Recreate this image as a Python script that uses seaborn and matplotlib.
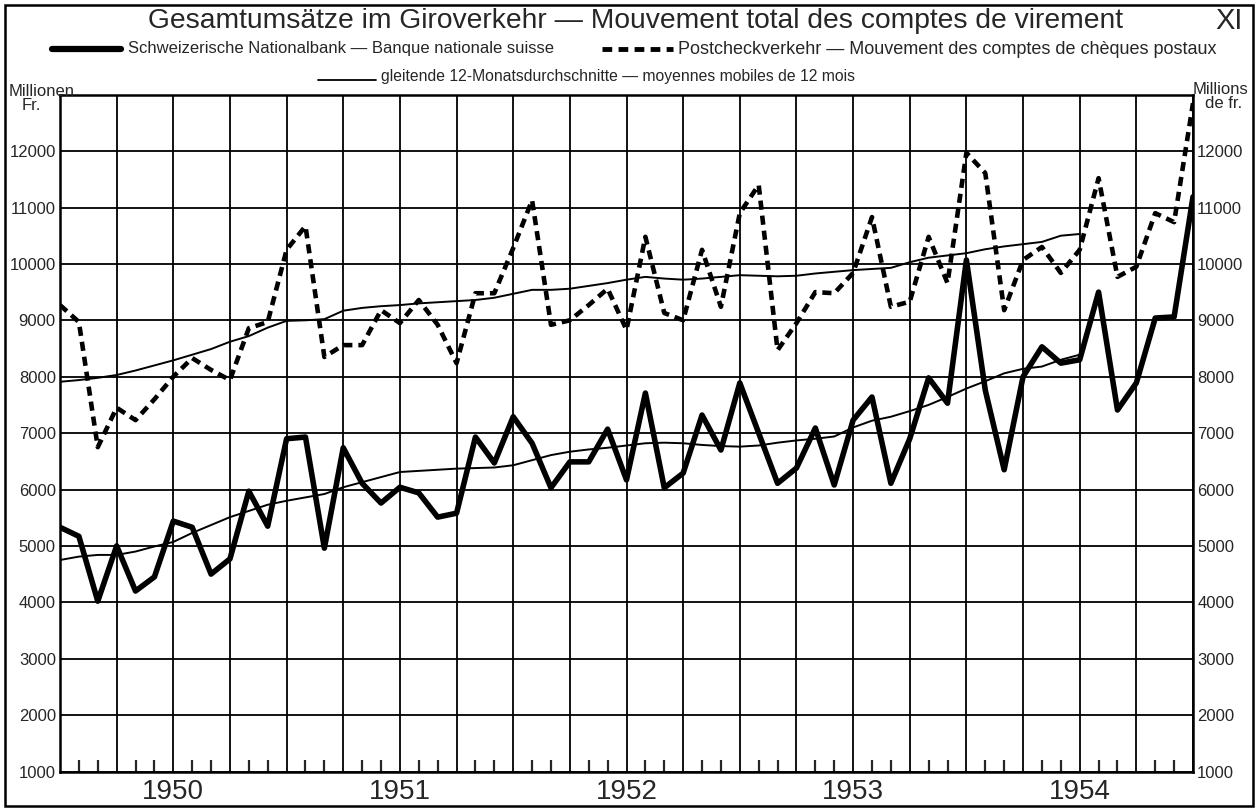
import numpy as np
import pandas as pd
import matplotlib
matplotlib.use('Agg')
import matplotlib.pyplot as plt
from matplotlib.lines import Line2D
from matplotlib.patches import Rectangle
import seaborn as sns

sns.set_style('white')
plt.rcParams['font.family'] = ['Liberation Sans', 'DejaVu Sans']

# monthly values, Mio. Fr. (index 0 = start of 1950, 60 = start of 1955)
nationalbank = [5330, 5170, 4020, 5000, 4200, 4450, 5440, 5330, 4500, 4770,
                5970, 5350, 6900, 6930, 4960, 6740, 6110, 5760, 6040, 5940,
                5510, 5580, 6930, 6470, 7290, 6820, 6030, 6490, 6490, 7070,
                6170, 7710, 6030, 6290, 7320, 6700, 7890, 7000, 6110, 6380,
                7090, 6080, 7230, 7640, 6110, 6900, 7980, 7530, 10070, 7760,
                6350, 8000, 8530, 8240, 8300, 9500, 7410, 7890, 9040, 9060,
                11190]
postcheck = [9270, 8970, 6750, 7450, 7230, 7600, 8000, 8330, 8120, 7940,
             8860, 8970, 10250, 10670, 8350, 8560, 8560, 9180, 8950, 9360,
             8920, 8240, 9480, 9480, 10280, 11130, 8920, 9000, 9270, 9560,
             8830, 10480, 9130, 9000, 10250, 9240, 10900, 11400, 8470, 8950,
             9500, 9480, 9840, 10830, 9240, 9330, 10480, 9660, 11970, 11610,
             9180, 10070, 10300, 9840, 10250, 11520, 9770, 9950, 10900, 10740,
             12850]
# 12-month moving averages (available up to index 54)
ma_nationalbank = [4750, 4810, 4840, 4840, 4900, 4990, 5070, 5230, 5370, 5510,
                   5620, 5730, 5800, 5860, 5920, 6040, 6130, 6220, 6310, 6330,
                   6350, 6370, 6380, 6390, 6430, 6520, 6610, 6670, 6710, 6740,
                   6780, 6820, 6830, 6820, 6790, 6770, 6760, 6780, 6830, 6870,
                   6900, 6940, 7100, 7220, 7290, 7390, 7500, 7640, 7790, 7920,
                   8060, 8140, 8180, 8300, 8390]
ma_postcheck = [7910, 7940, 7980, 8030, 8110, 8200, 8290, 8390, 8490, 8620,
                8720, 8870, 8990, 9000, 9020, 9170, 9220, 9250, 9270, 9300,
                9320, 9340, 9360, 9400, 9470, 9540, 9540, 9560, 9610, 9660,
                9720, 9770, 9740, 9720, 9740, 9770, 9800, 9790, 9780, 9790,
                9830, 9860, 9890, 9910, 9930, 10030, 10110, 10150, 10190, 10260,
                10310, 10350, 10390, 10500, 10530]
years = ['1950', '1951', '1952', '1953', '1954']
yticks = list(range(1000, 13000, 1000))

df = pd.DataFrame({'month': np.arange(len(nationalbank)),
                   'snb': nationalbank, 'pck': postcheck})
df_ma = pd.DataFrame({'month': np.arange(len(ma_nationalbank)),
                      'snb': ma_nationalbank, 'pck': ma_postcheck})

fig = plt.figure(figsize=(12.59, 8.11), dpi=100)
ax = fig.add_axes([60 / 1259, 1 - 771.5 / 811, 1133 / 1259, (771.5 - 94.7) / 811])

sns.lineplot(data=df_ma, x='month', y='pck', ax=ax, color='k', lw=1.4)
sns.lineplot(data=df_ma, x='month', y='snb', ax=ax, color='k', lw=1.4)
sns.lineplot(data=df, x='month', y='pck', ax=ax, color='k', lw=3.3,
             linestyle=(0, (2.0, 1.3)))
sns.lineplot(data=df, x='month', y='snb', ax=ax, color='k', lw=4.0)

ax.set_xlim(0, 60)
ax.set_ylim(1000, 13000)
ax.set_xticks(range(0, 61, 3))
ax.set_xticks([m for m in range(61) if m % 3], minor=True)
ax.set_xticklabels([])
ax.set_yticks(yticks)
ax.set_yticklabels([str(v) for v in yticks])
ax.tick_params(axis='x', which='major', length=0)
ax.tick_params(axis='x', which='minor', direction='in', length=9, width=1.6,
               bottom=True, top=False)
ax.tick_params(axis='y', length=0, labelleft=True, labelright=True,
               labelsize=12, pad=3)
ax.grid(True, which='major', color='k', lw=1.3)
for s in ax.spines.values():
    s.set_color('k')
    s.set_linewidth(1.8)
ax.set_xlabel('')
ax.set_ylabel('')

# year labels under the axis
for i, yr in enumerate(years):
    ax.text(6 + 12 * i, -0.031, yr, transform=ax.get_xaxis_transform(),
            ha='center', va='center', fontsize=20)

def fx(px):
    return px / 1259

def fy(py):
    return 1 - py / 811

# title, page number, legend
fig.text(fx(636), fy(21), 'Gesamtumsätze im Giroverkehr \u2014 Mouvement total des comptes de virement',
         ha='center', va='center', fontsize=20.3)
fig.text(fx(1229), fy(21), 'XI', ha='center', va='center', fontsize=21)

fig.add_artist(Line2D([fx(52), fx(121)], [fy(49), fy(49)], color='k', lw=4.5))
fig.text(fx(128), fy(49), 'Schweizerische Nationalbank \u2014 Banque nationale suisse',
         ha='left', va='center', fontsize=12)
fig.add_artist(Line2D([fx(602), fx(673)], [fy(49), fy(49)], color='k', lw=3.5,
                      linestyle=(0, (2.0, 1.3))))
fig.text(fx(678), fy(49), 'Postcheckverkehr \u2014 Mouvement des comptes de chèques postaux',
         ha='left', va='center', fontsize=13)
fig.add_artist(Line2D([fx(318), fx(376)], [fy(80), fy(80)], color='k', lw=1.3))
fig.text(fx(381), fy(77), 'gleitende 12-Monatsdurchschnitte \u2014 moyennes mobiles de 12 mois',
         ha='left', va='center', fontsize=11.3)

fig.text(fx(9), fy(91), 'Millionen', ha='left', va='center', fontsize=12)
fig.text(fx(22), fy(105), 'Fr.', ha='left', va='center', fontsize=12)
fig.text(fx(1248), fy(89), 'Millions', ha='right', va='center', fontsize=12)
fig.text(fx(1242), fy(104), 'de fr.', ha='right', va='center', fontsize=12)

fig.add_artist(Rectangle((fx(5), fy(806)), fx(1248), 801 / 811, fill=False,
                         edgecolor='k', lw=1.8, transform=fig.transFigure))

fig.savefig('out.png', dpi=100, facecolor='white')
